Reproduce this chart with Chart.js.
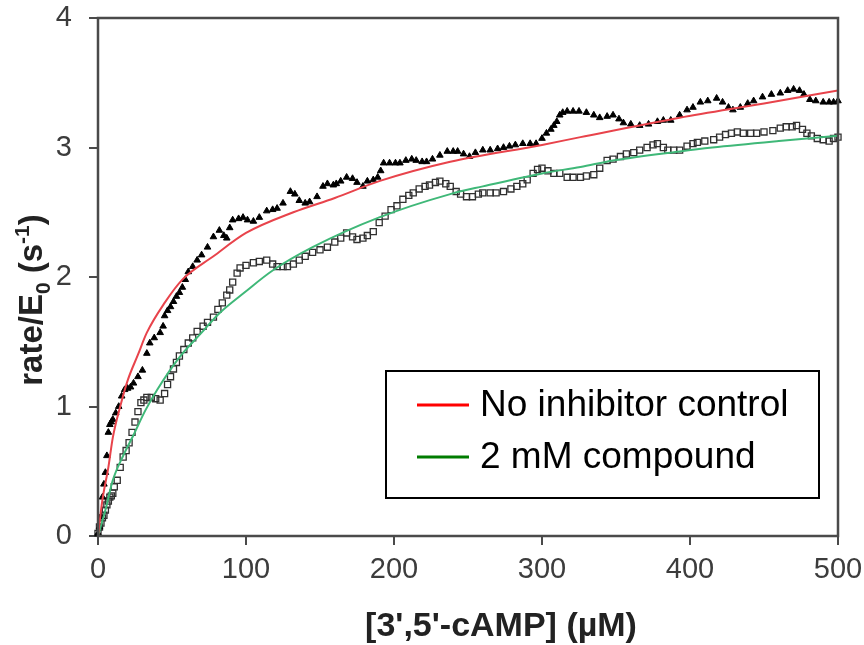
<!DOCTYPE html>
<html>
<head>
<meta charset="utf-8">
<script src="https://cdn.jsdelivr.net/npm/chart.js@4.4.1/dist/chart.umd.min.js"></script>
<style>
  html, body { margin: 0; padding: 0; background: #ffffff; }
  #wrap { width: 864px; height: 645px; position: relative; }
</style>
</head>
<body>
<div id="wrap"><canvas id="c" width="864" height="645"></canvas></div>
<script>
// ---------- DATA ----------
const xTickValues = [0, 100, 200, 300, 400, 500];
const yTickValues = [0, 1, 2, 3, 4];

const legendLabels = ['No inhibitor control', '2 mM compound'];

// No inhibitor control (black triangles)
const noInhX = [0,1,2,3,4,5,6,7,8,9,10,12,14,16,18,20,22,24,27,30,33,35,38,42,44,45,47,49,51,53,55,57,59,61,64,67,70,74,78,82,85,87,89,91,95,98,101,105,109,114,118,121,125,130,133,136,140,143,148,152,155,159,161,164,168,172,175,179,182,186,189,191,193,197,201,204,208,212,215,219,222,226,231,236,240,243,247,251,255,260,265,270,274,278,282,287,292,296,300,303,306,308,310,312,314,317,321,325,330,335,339,344,348,352,355,360,366,372,378,382,387,393,398,402,407,412,418,422,426,429,434,439,443,449,455,461,466,470,474,477,481,485,490,494,497,500];
const noInhY = [0.02,0.07,0.15,0.30,0.40,0.49,0.62,0.80,0.86,0.88,0.90,0.95,1.00,1.08,1.13,1.14,1.15,1.18,1.23,1.28,1.41,1.49,1.53,1.57,1.62,1.70,1.74,1.77,1.81,1.85,1.88,1.92,1.98,2.04,2.08,2.13,2.17,2.23,2.31,2.36,2.32,2.30,2.38,2.44,2.45,2.46,2.44,2.43,2.46,2.51,2.52,2.53,2.57,2.66,2.64,2.59,2.57,2.58,2.62,2.70,2.72,2.71,2.72,2.74,2.77,2.76,2.73,2.70,2.74,2.75,2.77,2.82,2.88,2.88,2.88,2.88,2.90,2.91,2.90,2.89,2.89,2.91,2.94,2.97,2.97,2.97,2.95,2.93,2.96,2.98,2.98,2.99,3.00,3.01,3.02,3.03,3.03,3.03,3.07,3.11,3.14,3.17,3.20,3.25,3.27,3.28,3.28,3.28,3.27,3.25,3.23,3.24,3.25,3.22,3.19,3.18,3.17,3.18,3.20,3.21,3.21,3.25,3.29,3.31,3.35,3.36,3.38,3.35,3.31,3.29,3.31,3.34,3.36,3.39,3.41,3.42,3.44,3.45,3.44,3.41,3.37,3.36,3.35,3.35,3.35,3.36];

// 2 mM compound (open squares)
const cmpdX = [0,1,2,3,4,5,6,7,8,9,10,11,13,15,17,19,21,23,25,27,29,31,33,36,39,42,45,47,49,51,53,55,58,61,64,67,71,74,78,81,84,87,89,91,94,96,100,105,109,114,118,121,125,128,132,136,140,145,150,155,160,164,168,172,175,179,182,186,190,194,198,202,206,210,213,217,221,224,228,231,235,238,242,245,249,253,257,260,265,269,274,279,283,287,290,294,297,300,304,308,312,317,321,326,330,335,339,344,348,353,357,362,366,371,375,378,382,385,389,393,398,402,405,410,416,420,424,428,432,436,441,445,450,456,461,465,469,472,476,479,482,486,490,494,497,500];
const cmpdY = [0.02,0.07,0.10,0.14,0.16,0.20,0.24,0.27,0.30,0.31,0.33,0.38,0.43,0.53,0.61,0.66,0.72,0.80,0.88,0.96,1.03,1.05,1.07,1.07,1.06,1.05,1.10,1.17,1.23,1.29,1.34,1.39,1.44,1.49,1.53,1.58,1.62,1.65,1.69,1.75,1.80,1.86,1.90,1.96,2.03,2.07,2.09,2.11,2.12,2.13,2.10,2.08,2.08,2.08,2.10,2.13,2.16,2.19,2.21,2.23,2.27,2.30,2.34,2.31,2.29,2.30,2.32,2.35,2.42,2.47,2.52,2.55,2.60,2.63,2.65,2.68,2.70,2.71,2.73,2.74,2.72,2.70,2.66,2.64,2.62,2.62,2.64,2.65,2.65,2.65,2.66,2.68,2.70,2.72,2.75,2.80,2.83,2.84,2.82,2.80,2.80,2.77,2.77,2.77,2.78,2.79,2.84,2.90,2.91,2.93,2.95,2.96,2.98,3.00,3.02,3.03,3.00,2.98,2.98,2.98,3.01,3.03,3.04,3.05,3.06,3.08,3.10,3.11,3.12,3.11,3.11,3.11,3.12,3.13,3.15,3.16,3.16,3.17,3.14,3.11,3.09,3.07,3.06,3.05,3.07,3.08];

// Fitted curves
const fitRedX = [0,3,7,10,15,20,27,33,45,57,78,100,132,160,190,238,300,326,393,450,500];
const fitRedY = [0,0.28,0.53,0.76,1.00,1.20,1.40,1.57,1.80,1.98,2.16,2.34,2.50,2.61,2.74,2.89,3.02,3.08,3.23,3.34,3.44];
const fitGreenX = [0,5,10,17,24,32,40,55,70,82,100,118,145,190,238,260,300,326,348,393,415,460,500];
const fitGreenY = [0,0.20,0.43,0.62,0.78,0.97,1.13,1.38,1.57,1.72,1.89,2.05,2.23,2.46,2.64,2.70,2.80,2.85,2.90,2.97,3.00,3.05,3.09];

// ---------- helpers ----------
const toPts = (xs, ys) => xs.map((x, i) => ({ x: x, y: ys[i] }));
const FONT = '"Liberation Sans", Arial, Helvetica, sans-serif';
const AXIS_COLOR = '#4a4a4a';

// ---------- plugins ----------
const framePlugin = {
  id: 'frame',
  afterDatasetsDraw(chart) {
    const { ctx, chartArea: a } = chart;
    ctx.save();
    ctx.strokeStyle = AXIS_COLOR;
    ctx.lineWidth = 2.5;
    ctx.strokeRect(a.left, a.top, a.right - a.left, a.bottom - a.top);
    ctx.restore();
  }
};

const titlesPlugin = {
  id: 'titles',
  afterDraw(chart) {
    const { ctx, chartArea: a } = chart;
    ctx.save();
    ctx.fillStyle = '#222222';
    // x title
    ctx.font = 'bold 34px ' + FONT;
    ctx.textAlign = 'center';
    ctx.textBaseline = 'alphabetic';
    ctx.fillText("[3',5'-cAMP] (\u00B5M)", a.left + 403, a.bottom + 100);

    // y title with sub/superscripts
    const big = 'bold 33px ' + FONT;
    const small = 'bold 21px ' + FONT;
    const parts = [
      { t: 'rate/E', f: big, dy: 0 },
      { t: '0', f: small, dy: 8 },
      { t: ' (s', f: big, dy: 0 },
      { t: '-1', f: small, dy: -13 },
      { t: ')', f: big, dy: 0 }
    ];
    let total = 0;
    parts.forEach(p => { ctx.font = p.f; p.w = ctx.measureText(p.t).width; total += p.w; });
    ctx.translate(30, (a.top + a.bottom) / 2 + 23);
    ctx.rotate(-Math.PI / 2);
    ctx.textAlign = 'left';
    let x = -total / 2;
    parts.forEach(p => {
      ctx.font = p.f;
      ctx.fillText(p.t, x, 12 + p.dy);
      x += p.w;
    });
    ctx.restore();
  }
};

const boxLegendPlugin = {
  id: 'boxLegend',
  afterDraw(chart, args, opts) {
    const { ctx, chartArea: a } = chart;
    const right = a.right - 19, bottom = a.bottom - 38;
    const w = 433, h = 127;
    const left = right - w, top = bottom - h;
    ctx.save();
    ctx.fillStyle = '#ffffff';
    ctx.fillRect(left, top, w, h);
    ctx.strokeStyle = '#000000';
    ctx.lineWidth = 2;
    ctx.strokeRect(left, top, w, h);
    ctx.font = '37px ' + FONT;
    ctx.textAlign = 'left';
    ctx.textBaseline = 'middle';
    opts.items.forEach((it, i) => {
      const y = top + 34 + i * 52;
      ctx.strokeStyle = it.color;
      ctx.lineWidth = 3;
      ctx.beginPath();
      ctx.moveTo(left + 31, y);
      ctx.lineTo(left + 83, y);
      ctx.stroke();
      ctx.fillStyle = '#000000';
      ctx.fillText(it.label, left + 94, y + 1);
    });
    ctx.restore();
  }
};

// ---------- chart ----------
const ctx = document.getElementById('c').getContext('2d');
new Chart(ctx, {
  type: 'scatter',
  data: {
    datasets: [
      {
        type: 'line',
        label: legendLabels[0],
        data: toPts(fitRedX, fitRedY),
        borderColor: '#e8434b',
        borderWidth: 2,
        pointRadius: 0,
        cubicInterpolationMode: 'monotone',
        fill: false
      },
      {
        type: 'line',
        label: legendLabels[1],
        data: toPts(fitGreenX, fitGreenY),
        borderColor: '#3fb878',
        borderWidth: 2,
        pointRadius: 0,
        cubicInterpolationMode: 'monotone',
        fill: false
      },
      {
        label: 'No inhibitor data',
        data: toPts(noInhX, noInhY),
        pointStyle: 'triangle',
        pointRadius: 3.8,
        backgroundColor: '#000000',
        borderColor: '#000000',
        borderWidth: 1,
        clip: false
      },
      {
        label: 'Compound data',
        data: toPts(cmpdX, cmpdY),
        pointStyle: 'rect',
        pointRadius: 4.3,
        backgroundColor: 'rgba(255,255,255,0)',
        borderColor: '#303030',
        borderWidth: 1.3,
        clip: false
      }
    ]
  },
  options: {
    responsive: false,
    animation: false,
    devicePixelRatio: 1,
    layout: { padding: { left: 0, right: 26, top: 18, bottom: 0 } },
    plugins: {
      legend: { display: false },
      tooltip: { enabled: false },
      boxLegend: {
        items: [
          { label: legendLabels[0], color: '#ff0000' },
          { label: legendLabels[1], color: '#007c00' }
        ]
      }
    },
    scales: {
      x: {
        type: 'linear',
        min: 0,
        max: 500,
        afterFit(scale) {
          scale.height = 109;
          scale.paddingLeft = 0; scale.paddingRight = 0;
          scale.paddingTop = 0; scale.paddingBottom = 0;
        },
        afterBuildTicks(scale) { scale.ticks = xTickValues.map(v => ({ value: v })); },
        border: { display: false },
        grid: {
          display: true,
          drawOnChartArea: false,
          drawTicks: true,
          tickLength: 9,
          color: AXIS_COLOR,
          lineWidth: 2
        },
        ticks: {
          color: '#3c3c3c',
          padding: 8,
          maxRotation: 0,
          font: { family: FONT, size: 29, lineHeight: 1.2 }
        }
      },
      y: {
        type: 'linear',
        min: 0,
        max: 4,
        afterFit(scale) {
          scale.width = 98;
          scale.paddingLeft = 0; scale.paddingRight = 0;
          scale.paddingTop = 0; scale.paddingBottom = 0;
        },
        afterBuildTicks(scale) { scale.ticks = yTickValues.map(v => ({ value: v })); },
        border: { display: false },
        grid: {
          display: true,
          drawOnChartArea: false,
          drawTicks: true,
          tickLength: 9,
          color: AXIS_COLOR,
          lineWidth: 2
        },
        ticks: {
          color: '#3c3c3c',
          padding: 17,
          font: { family: FONT, size: 29 }
        }
      }
    }
  },
  plugins: [framePlugin, titlesPlugin, boxLegendPlugin]
});
</script>
</body>
</html>
